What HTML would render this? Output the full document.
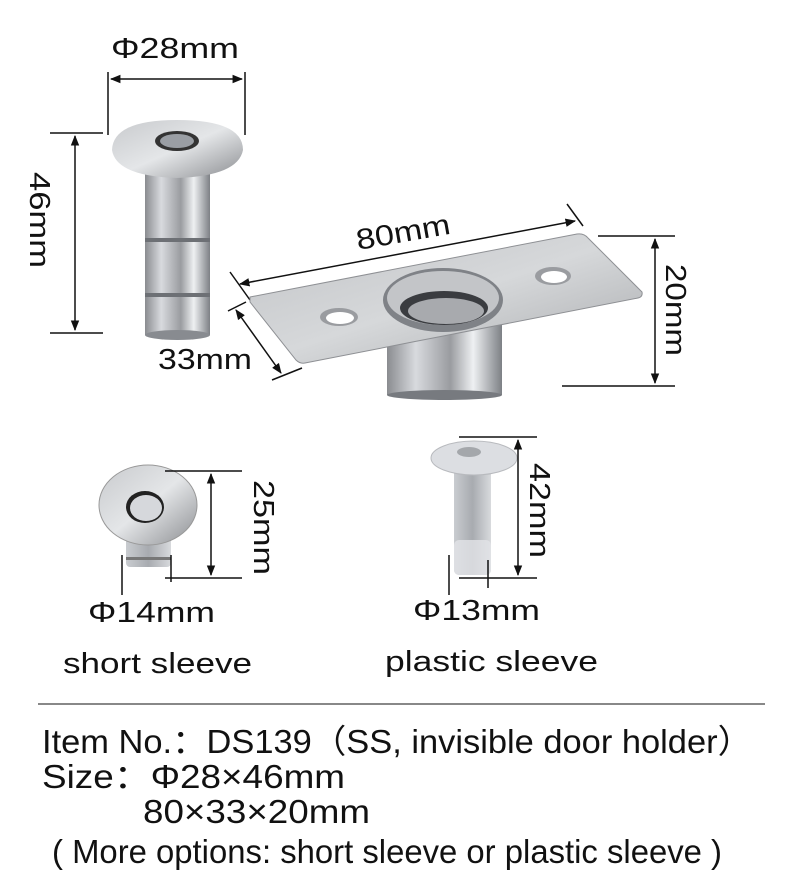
<!DOCTYPE html>
<html><head><meta charset="utf-8"><style>
html,body{margin:0;padding:0;background:#fff;}
svg{display:block;}
text{font-family:"Liberation Sans","DejaVu Sans",sans-serif;fill:#111;}
</style></head><body>
<svg width="800" height="892" viewBox="0 0 800 892" xmlns="http://www.w3.org/2000/svg">
<defs>
<linearGradient id="tube" x1="0" x2="1" y1="0" y2="0">
<stop offset="0" stop-color="#8a8c90"/><stop offset="0.25" stop-color="#d8dade"/><stop offset="0.55" stop-color="#9a9ca0"/><stop offset="0.75" stop-color="#eef0f2"/><stop offset="1" stop-color="#7d8085"/>
</linearGradient>
<linearGradient id="cap" x1="0" x2="1" y1="0" y2="1">
<stop offset="0" stop-color="#c8cacd"/><stop offset="0.5" stop-color="#e4e6e8"/><stop offset="1" stop-color="#8c8e92"/>
</linearGradient>
<linearGradient id="plate" x1="0" x2="1" y1="0" y2="1">
<stop offset="0" stop-color="#c2c4c7"/><stop offset="0.5" stop-color="#d6d8da"/><stop offset="1" stop-color="#a9abae"/>
</linearGradient>
<linearGradient id="plas" x1="0" x2="1">
<stop offset="0" stop-color="#c9ccd0"/><stop offset="0.5" stop-color="#a8abb0"/><stop offset="1" stop-color="#d8dadd"/>
</linearGradient>
<marker id="ar" viewBox="0 0 10 10" refX="9" refY="5" markerWidth="7" markerHeight="7" orient="auto-start-reverse"><path d="M0,1 L10,5 L0,9 z" fill="#111"/></marker>
</defs>

<text x="111" y="58" font-size="29" textLength="128" lengthAdjust="spacingAndGlyphs">Φ28mm</text>
<line x1="108" y1="72" x2="108" y2="135" stroke="#111" stroke-width="1.5"/>
<line x1="245" y1="72" x2="245" y2="135" stroke="#111" stroke-width="1.5"/>
<line x1="111" y1="79" x2="242" y2="79" stroke="#111" stroke-width="1.5" marker-start="url(#ar)" marker-end="url(#ar)"/>
<line x1="50" y1="133" x2="103" y2="133" stroke="#111" stroke-width="1.5"/>
<line x1="50" y1="333" x2="103" y2="333" stroke="#111" stroke-width="1.5"/>
<line x1="75" y1="136" x2="75" y2="330" stroke="#111" stroke-width="1.5" marker-start="url(#ar)" marker-end="url(#ar)"/>
<text transform="translate(30,172) rotate(90)" font-size="29" textLength="96" lengthAdjust="spacingAndGlyphs">46mm</text>

<rect x="145" y="170" width="65" height="165" fill="url(#tube)"/>
<rect x="145" y="238" width="65" height="4" fill="#6d7075"/>
<rect x="145" y="293" width="65" height="4" fill="#6d7075"/>
<ellipse cx="177.5" cy="335" rx="32.5" ry="5" fill="#888b90"/>
<path d="M112,150 Q113,120 177,120 Q243,120 243,150 Q238,176 177,178 Q116,176 112,150 z" fill="url(#cap)"/>
<ellipse cx="177" cy="141" rx="22" ry="10" fill="#333"/>
<ellipse cx="177" cy="141" rx="17" ry="7" fill="#9a9ea4"/>

<text transform="translate(358,250) rotate(-10)" font-size="29" textLength="95" lengthAdjust="spacingAndGlyphs">80mm</text>
<line x1="230" y1="272" x2="250" y2="300" stroke="#111" stroke-width="1.5"/>
<line x1="567" y1="204" x2="583" y2="226" stroke="#111" stroke-width="1.5"/>
<line x1="240" y1="284" x2="575" y2="221" stroke="#111" stroke-width="1.5" marker-start="url(#ar)" marker-end="url(#ar)"/>
<line x1="228" y1="311" x2="246" y2="302" stroke="#111" stroke-width="1.5"/>
<line x1="272" y1="380" x2="302" y2="368" stroke="#111" stroke-width="1.5"/>
<line x1="236" y1="310" x2="281" y2="373" stroke="#111" stroke-width="1.5" marker-start="url(#ar)" marker-end="url(#ar)"/>
<text x="158" y="369" font-size="29" textLength="94" lengthAdjust="spacingAndGlyphs">33mm</text>

<rect x="387" y="320" width="115" height="75" fill="url(#tube)"/>
<ellipse cx="444.5" cy="395" rx="57.5" ry="5" fill="#777a7f"/>
<path d="M250,297 L577,234 Q584,233 588,238 L642,292 Q643,297 638,298 L305,363 Q300,364 296,360 L250,302 z" fill="url(#plate)" stroke="#8e9094" stroke-width="1"/>
<ellipse cx="339" cy="317" rx="19" ry="9" fill="#9a9ca0"/><ellipse cx="340" cy="318" rx="14" ry="6" fill="#fff"/>
<ellipse cx="553" cy="276" rx="18" ry="9" fill="#9a9ca0"/><ellipse cx="554" cy="277" rx="13" ry="6" fill="#fff"/>
<ellipse cx="443" cy="300" rx="60" ry="32" fill="#7f8287"/>
<ellipse cx="443" cy="298" rx="56" ry="27" fill="#c3c5c8"/>
<ellipse cx="444" cy="308" rx="44" ry="17" fill="#3a3c40"/>
<ellipse cx="446" cy="311" rx="38" ry="13" fill="#a8aaae"/>
<line x1="598" y1="236" x2="675" y2="236" stroke="#111" stroke-width="1.5"/>
<line x1="562" y1="386" x2="675" y2="386" stroke="#111" stroke-width="1.5"/>
<line x1="655" y1="239" x2="655" y2="383" stroke="#111" stroke-width="1.5" marker-start="url(#ar)" marker-end="url(#ar)"/>
<text transform="translate(666,264) rotate(90)" font-size="29" textLength="92" lengthAdjust="spacingAndGlyphs">20mm</text>

<rect x="126" y="535" width="45" height="32" rx="4" fill="url(#plas)"/>
<rect x="126" y="557" width="45" height="3" fill="#777"/>
<ellipse cx="148" cy="505" rx="49" ry="40" fill="url(#cap)"/>
<ellipse cx="148" cy="505" rx="49" ry="40" fill="none" stroke="#999" stroke-width="1"/>
<ellipse cx="145" cy="507" rx="19" ry="16" fill="#222"/>
<ellipse cx="146" cy="508" rx="16" ry="13" fill="#d6d8dc"/>
<line x1="122" y1="555" x2="122" y2="595" stroke="#111" stroke-width="1.5"/>
<line x1="171" y1="555" x2="171" y2="582" stroke="#111" stroke-width="1.5"/>
<line x1="165" y1="471" x2="242" y2="471" stroke="#111" stroke-width="1.5"/>
<line x1="165" y1="578" x2="242" y2="578" stroke="#111" stroke-width="1.5"/>
<line x1="211" y1="474" x2="211" y2="575" stroke="#111" stroke-width="1.5" marker-start="url(#ar)" marker-end="url(#ar)"/>
<text transform="translate(254,480) rotate(90)" font-size="29" textLength="95" lengthAdjust="spacingAndGlyphs">25mm</text>
<text x="88" y="622" font-size="29" textLength="127" lengthAdjust="spacingAndGlyphs">Φ14mm</text>
<text x="63" y="673" font-size="29" textLength="189" lengthAdjust="spacingAndGlyphs">short sleeve</text>

<rect x="454" y="465" width="37" height="110" rx="5" fill="url(#plas)"/>
<rect x="454" y="540" width="37" height="35" rx="5" fill="#e2e4e7" opacity="0.8"/>
<ellipse cx="474" cy="458" rx="43" ry="17" fill="#dcdee2" stroke="#b8babe"/>
<ellipse cx="469" cy="452" rx="12" ry="5" fill="#a4a7ab"/>
<line x1="449" y1="555" x2="449" y2="595" stroke="#111" stroke-width="1.5"/>
<line x1="488" y1="560" x2="488" y2="588" stroke="#111" stroke-width="1.5"/>
<line x1="459" y1="437" x2="537" y2="437" stroke="#111" stroke-width="1.5"/>
<line x1="459" y1="578" x2="537" y2="578" stroke="#111" stroke-width="1.5"/>
<line x1="518" y1="440" x2="518" y2="575" stroke="#111" stroke-width="1.5" marker-start="url(#ar)" marker-end="url(#ar)"/>
<text transform="translate(530,463) rotate(90)" font-size="29" textLength="95" lengthAdjust="spacingAndGlyphs">42mm</text>
<text x="413" y="620" font-size="29" textLength="127" lengthAdjust="spacingAndGlyphs">Φ13mm</text>
<text x="385" y="671" font-size="29" textLength="213" lengthAdjust="spacingAndGlyphs">plastic sleeve</text>

<line x1="38" y1="704" x2="765" y2="704" stroke="#888" stroke-width="2"/>

<text x="42" y="753" font-size="33" textLength="710" lengthAdjust="spacingAndGlyphs">Item No.：DS139（SS, invisible door holder）</text>
<text x="42" y="788" font-size="33" textLength="303" lengthAdjust="spacingAndGlyphs">Size：Φ28×46mm</text>
<text x="143" y="823" font-size="33" textLength="227" lengthAdjust="spacingAndGlyphs">80×33×20mm</text>
<text x="52" y="863" font-size="33" textLength="670" lengthAdjust="spacingAndGlyphs">( More options: short sleeve or plastic sleeve )</text>
</svg>
</body></html>
